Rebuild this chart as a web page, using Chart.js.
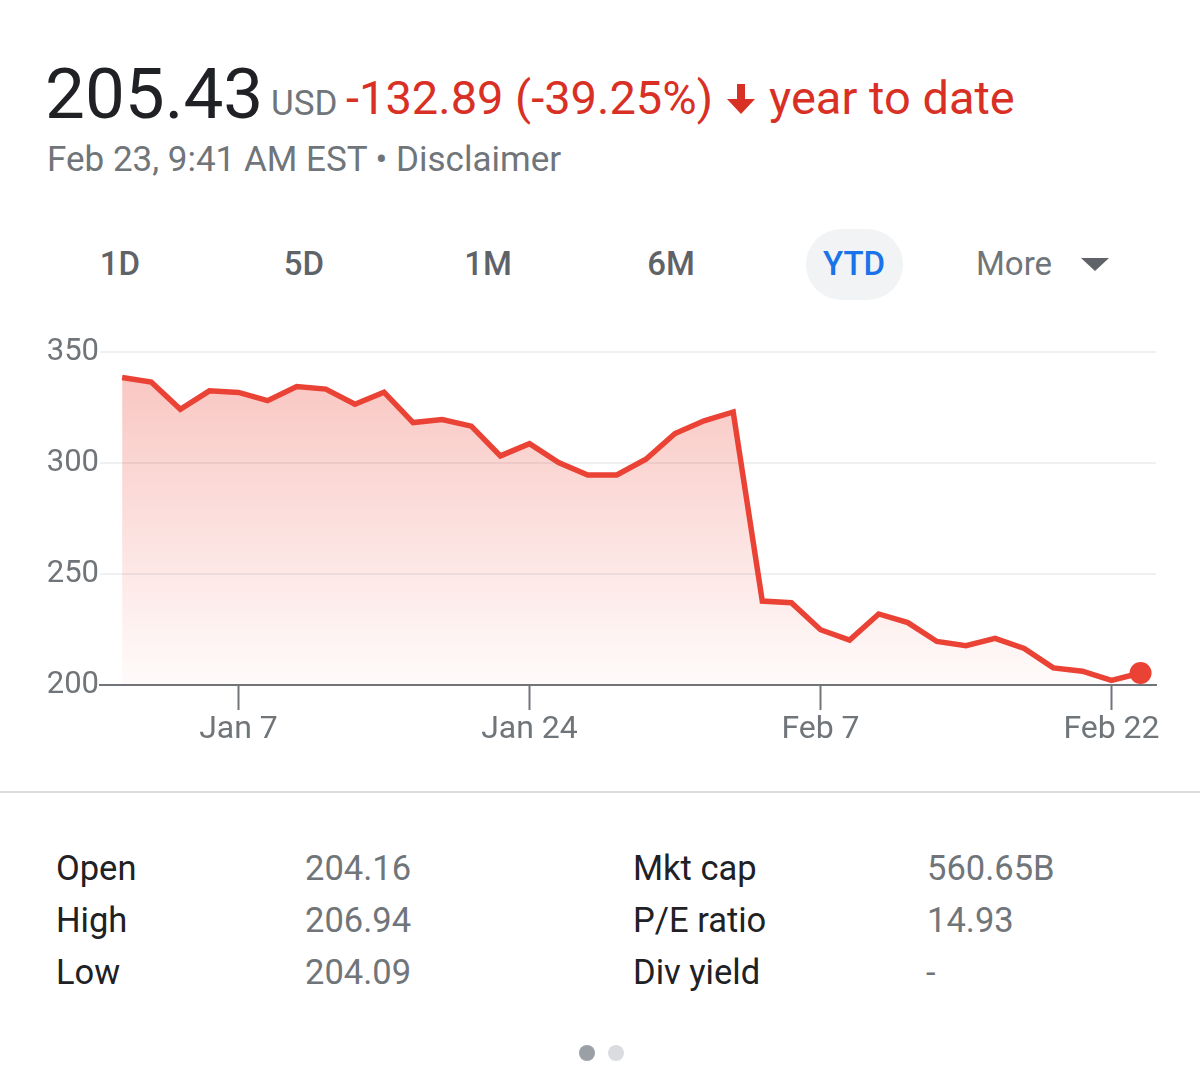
<!DOCTYPE html>
<html>
<head>
<meta charset="utf-8">
<script src="https://cdn.jsdelivr.net/npm/chart.js@4/dist/chart.umd.min.js"></script>
<style>
  body { margin: 0; width: 1200px; height: 1065px; background: #fff; font-family: Roboto, Arial, sans-serif; position: relative; overflow: hidden; }
  .abs { position: absolute; white-space: nowrap; }
  #price { left: 45px; top: 52px; font-size: 71px; color: #202124; }
  #usd { left: 271px; top: 83px; font-size: 35px; color: #70757a; }
  #chg { left: 346px; top: 70px; font-size: 47px; color: #d93025; }
  #arrow { left: 724px; top: 82px; }
  #ytd { left: 769px; top: 70px; font-size: 47px; color: #d93025; }
  #sub { left: 47px; top: 139px; font-size: 35px; color: #70757a; }
  .tab { top: 244px; font-size: 33px; font-weight: 500; color: #5f6368; transform: translateX(-50%); }
  #ytdpill { left: 806px; top: 229px; width: 97px; height: 71px; border-radius: 36px; background: #f1f3f4; }
  #more { left: 976px; top: 244px; font-size: 33px; color: #70757a; }
  #tri { left: 1081px; top: 258px; width: 0; height: 0; border-left: 14px solid transparent; border-right: 14px solid transparent; border-top: 13px solid #5f6368; }
  #chartBox { left: 0; top: 330px; width: 1200px; height: 430px; }
  #divider { left: 0; top: 791px; width: 1200px; height: 2px; background: #dadce0; }
  .lbl { font-size: 34.5px; color: #202124; }
  .val { font-size: 34.5px; color: #70757a; }
  .dot { width: 16px; height: 16px; border-radius: 50%; top: 1045px; }
</style>
</head>
<body>
<div class="abs" id="price">205.43</div>
<div class="abs" id="usd">USD</div>
<div class="abs" id="chg">-132.89 (-39.25%)</div>
<svg class="abs" id="arrow" width="34" height="34" viewBox="0 0 34 34">
  <path d="M13 2 H21 V17 H31 L17 32 L3 17 H13 Z" fill="#d93025"/>
</svg>
<div class="abs" id="ytd">year to date</div>
<div class="abs" id="sub">Feb 23, 9:41 AM EST &bull; Disclaimer</div>

<div class="abs" id="ytdpill"></div>
<div class="abs tab" style="left:120px">1D</div>
<div class="abs tab" style="left:304px">5D</div>
<div class="abs tab" style="left:488px">1M</div>
<div class="abs tab" style="left:671px">6M</div>
<div class="abs tab" style="left:854px;color:#1a73e8">YTD</div>
<div class="abs" id="more">More</div>
<div class="abs" id="tri"></div>

<div class="abs" id="chartBox"><canvas id="chart" width="1200" height="430"></canvas></div>

<div class="abs" id="divider"></div>

<div class="abs lbl" style="left:56px;top:848px">Open</div>
<div class="abs lbl" style="left:56px;top:900px">High</div>
<div class="abs lbl" style="left:56px;top:952px">Low</div>
<div class="abs val" style="left:305px;top:848px">204.16</div>
<div class="abs val" style="left:305px;top:900px">206.94</div>
<div class="abs val" style="left:305px;top:952px">204.09</div>
<div class="abs lbl" style="left:633px;top:848px">Mkt cap</div>
<div class="abs lbl" style="left:633px;top:900px">P/E ratio</div>
<div class="abs lbl" style="left:633px;top:952px">Div yield</div>
<div class="abs val" style="left:927px;top:848px">560.65B</div>
<div class="abs val" style="left:927px;top:900px">14.93</div>
<div class="abs val" style="left:926px;top:952px">-</div>

<div class="abs dot" style="left:579px;background:#9aa0a6"></div>
<div class="abs dot" style="left:608px;background:#dadce0"></div>

<script>
// trading days, Jan 3 .. Feb 23
const dates = [
  'Jan 3','Jan 4','Jan 5','Jan 6','Jan 7','Jan 10','Jan 11','Jan 12','Jan 13','Jan 14',
  'Jan 18','Jan 19','Jan 20','Jan 21','Jan 24','Jan 25','Jan 26','Jan 27','Jan 28','Jan 31',
  'Feb 1','Feb 2','Feb 3','Feb 4','Feb 7','Feb 8','Feb 9','Feb 10','Feb 11','Feb 14',
  'Feb 15','Feb 16','Feb 17','Feb 18','Feb 22','Feb 23'
];
const closes = [
  338.5, 336.5, 324.2, 332.5, 331.8, 328.1, 334.4, 333.3, 326.5, 331.9,
  318.2, 319.6, 316.6, 303.2, 308.7, 300.2, 294.6, 294.6, 301.7, 313.3,
  319.0, 323.0, 237.8, 237.1, 224.9, 220.2, 232.0, 228.1, 219.6, 217.7,
  221.0, 216.5, 207.7, 206.2, 202.1, 205.4
];
const xTickLabels = ['Jan 7', 'Jan 24', 'Feb 7', 'Feb 22'];
const yTicks = [200, 250, 300, 350];

const red = '#ea4335';
const axisGray = '#70757a';

const ctx = document.getElementById('chart').getContext('2d');
const grad = ctx.createLinearGradient(0, 22, 0, 355);
grad.addColorStop(0, 'rgba(234,67,53,0.32)');
grad.addColorStop(1, 'rgba(234,67,53,0.02)');

const lastIdx = closes.length - 1;

new Chart(ctx, {
  type: 'line',
  data: {
    datasets: [{
      data: closes.map((v, i) => ({ x: i, y: v })),
      borderColor: red,
      borderWidth: 5.5,
      borderJoinStyle: 'miter',
      backgroundColor: grad,
      fill: 'start',
      tension: 0,
      pointRadius: c => c.dataIndex === lastIdx ? 11 : 0,
      pointBackgroundColor: red,
      pointBorderWidth: 0
    }]
  },
  options: {
    responsive: false,
    animation: false,
    events: [],
    layout: { padding: { top: 22, right: 44, left: 0, bottom: 0 } },
    plugins: { legend: { display: false }, tooltip: { enabled: false } },
    scales: {
      x: {
        type: 'linear',
        min: -0.76,
        max: 35.53,
        afterBuildTicks: axis => {
          axis.ticks = xTickLabels.map(l => ({ value: dates.indexOf(l) }));
        },
        afterFit: scale => { scale.height = 75; },
        ticks: {
          autoSkip: false,
          maxRotation: 0,
          padding: 1,
          color: axisGray,
          font: { family: 'Roboto', size: 32 },
          callback: v => dates[v]
        },
        grid: {
          drawOnChartArea: false,
          drawTicks: true,
          tickLength: 25,
          tickColor: axisGray,
          tickWidth: 2
        },
        border: { color: axisGray, width: 2 }
      },
      y: {
        min: 200,
        max: 350,
        afterBuildTicks: axis => {
          axis.ticks = yTicks.map(v => ({ value: v }));
        },
        afterFit: scale => { scale.width = 100; },
        ticks: {
          padding: 1,
          color: axisGray,
          font: { family: 'Roboto', size: 31 }
        },
        grid: {
          drawTicks: false,
          lineWidth: 2,
          color: c => c.tick && c.tick.value === 200 ? 'rgba(0,0,0,0)' : '#eef0f2'
        },
        border: { display: false }
      }
    }
  }
});
</script>
</body>
</html>
